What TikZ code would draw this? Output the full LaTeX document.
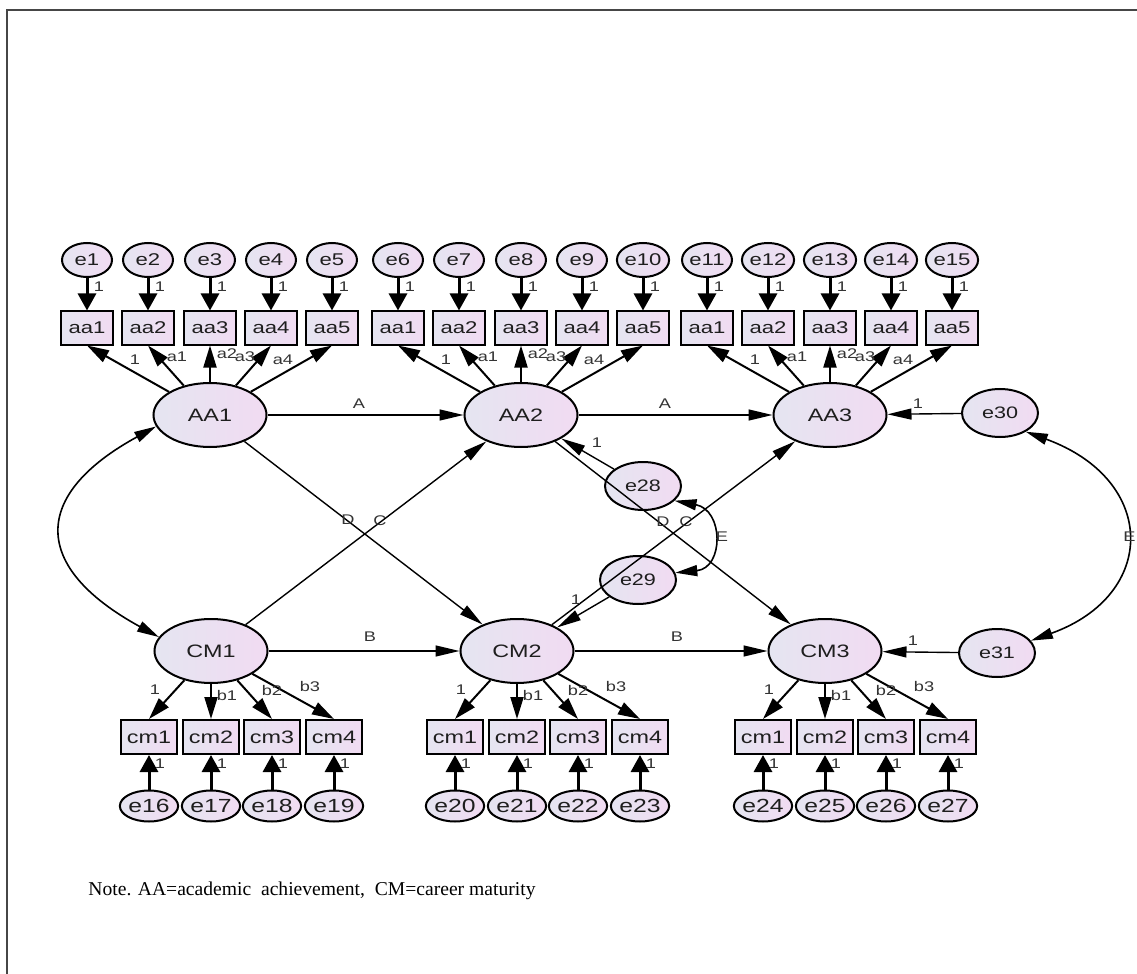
\documentclass[tikz,border=0pt]{standalone}
\usepackage{fontspec}
\setmainfont{Liberation Serif}
\newfontfamily\amos{Liberation Sans}[FakeStretch=1.3]
\usetikzlibrary{shapes.geometric,arrows.meta}
\definecolor{lavA}{RGB}{229,229,241}
\definecolor{lavB}{RGB}{241,219,242}
\definecolor{framegray}{RGB}{70,70,70}
\definecolor{txt}{RGB}{30,30,30}
\begin{document}
\begin{tikzpicture}[x=0.5pt,y=-0.5pt,
  every node/.style={text=txt},
  lat/.style={ellipse, draw=black, line width=1pt, left color=lavA, right color=lavB, inner sep=0pt,
    minimum width=56.5pt, minimum height=32pt, font=\amos\fontsize{9}{9}\selectfont},
  err/.style={ellipse, draw=black, line width=1pt, left color=lavA, right color=lavB, inner sep=0pt,
    minimum width=25pt, minimum height=17pt, font=\amos\fontsize{8.5}{8.5}\selectfont},
  errb/.style={err, minimum height=15.5pt, font=\amos\fontsize{9.5}{9.5}\selectfont},
  erri/.style={err, minimum width=38pt, minimum height=24pt, font=\amos\fontsize{8.3}{8.3}\selectfont},
  obs/.style={rectangle, draw=black, line width=1pt, left color=lavA, right color=lavB, inner sep=0pt,
    minimum width=26pt, minimum height=16.5pt, font=\amos\fontsize{8.5}{8.5}\selectfont},
  obsc/.style={obs, minimum width=28pt, minimum height=17pt, font=\amos\fontsize{9}{9}\selectfont},
  lbl/.style={inner sep=0pt, font=\amos\fontsize{7}{7}\selectfont, text=black!80},
  spath/.style={line width=0.7pt, -{Triangle[length=12pt,width=5.5pt]}},
  load/.style={line width=1pt, -{Triangle[length=11pt,width=6.5pt]}},
  eload/.style={line width=1.5pt, -{Triangle[length=8.5pt,width=9pt]}},
  cov/.style={line width=0.8pt, {Triangle[length=11pt,width=5.5pt]}-{Triangle[length=11pt,width=5.5pt]}}
]
\useasboundingbox (0,0) rectangle (1137,974);
\fill[white] (0,0) rectangle (1137,974);
\draw[framegray, line width=1pt] (7,974) -- (7,10) -- (1137,10);

% upper measurement model
\foreach \g/\cx in {1/210,2/521,3/830}{
  \node[lat] (AA\g) at (\cx,415) {AA\g};
  \foreach \i/\dx in {1/-123,2/-62,3/0,4/61,5/122}{
    \pgfmathtruncatemacro\en{(\g-1)*5+\i}
    \node[obs] (a\g\i) at (\cx+\dx,328) {aa\i};
    \node[err] (e\en) at (\cx+\dx,260) {e\en};
    \draw[eload] (e\en) -- (a\g\i.north);
    \node[lbl] at (\cx+\dx+12,287) {1};
    \draw[load] (AA\g) -- (a\g\i.south);
  }
  \foreach \lab/\dx/\yy in {1/-75/360, a1/-33/357, a2/17/354, a3/35/357, a4/73/360}{
    \node[lbl] at (\cx+\dx,\yy) {\lab};
  }
}

% lower measurement model
\foreach \g/\cx in {1/211,2/517,3/825}{
  \node[lat] (CM\g) at (\cx,651) {CM\g};
  \foreach \i/\dx in {1/-62,2/0,3/61,4/123}{
    \pgfmathtruncatemacro\en{15+(\g-1)*4+\i}
    \node[obsc] (c\g\i) at (\cx+\dx,737) {cm\i};
    \node[errb] (e\en) at (\cx+\dx,806) {e\en};
    \draw[eload] (e\en) -- (c\g\i.south);
    \node[lbl] at (\cx+\dx+11,764) {1};
    \draw[load] (CM\g) -- (c\g\i.north);
  }
  \foreach \lab/\dx/\yy in {1/-56/690, b1/16/695, b2/61/690, b3/99/686}{
    \node[lbl] at (\cx+\dx,\yy) {\lab};
  }
}

% disturbances
\node[erri] (e28) at (643,486) {e28};
\node[erri] (e29) at (638,580) {e29};
\node[erri] (e30) at (1000,413) {e30};
\node[erri] (e31) at (997,653) {e31};

% structural paths
\draw[spath] (AA1) -- (AA2);
\draw[spath] (AA2) -- (AA3);
\draw[spath] (CM1) -- (CM2);
\draw[spath] (CM2) -- (CM3);
\draw[spath] (AA1) -- (CM2);
\draw[spath] (CM1) -- (AA2);
\draw[spath] (AA2) -- (CM3);
\draw[spath] (CM2) -- (AA3);
\draw[spath] (e28) -- (AA2);
\draw[spath] (e29) -- (CM2);
\draw[spath] (e30) -- (AA3);
\draw[spath] (e31) -- (CM3);

\node[lbl] at (359,404) {A};
\node[lbl] at (665,404) {A};
\node[lbl] at (370,637) {B};
\node[lbl] at (677,637) {B};
\node[lbl] at (348,520) {D};
\node[lbl] at (380,521) {C};
\node[lbl] at (663,522) {D};
\node[lbl] at (686,522) {C};
\node[lbl] at (597,443) {1};
\node[lbl] at (576,600) {1};
\node[lbl] at (918,404) {1};
\node[lbl] at (913,641) {1};

% covariances
\draw[cov] (AA1.192) .. controls (31,495) and (31,567) .. (CM1.165);
\draw[cov] (e28.-25) .. controls (724,510) and (724,568) .. (e29.11);
\node[lbl] at (722,537) {E};
\draw[cov] (e30.-36) .. controls (1158,480) and (1158,595) .. (e31.20);
\node[lbl, anchor=east] at (1136,537) {E};

% note
\node[anchor=west, inner sep=0pt, text=black, font=\fontsize{9.8}{10}\selectfont] (note) at (88,891)
  {Note. AA=academic\ \ achievement,\ \ CM=career maturity};
\end{tikzpicture}
\end{document}
